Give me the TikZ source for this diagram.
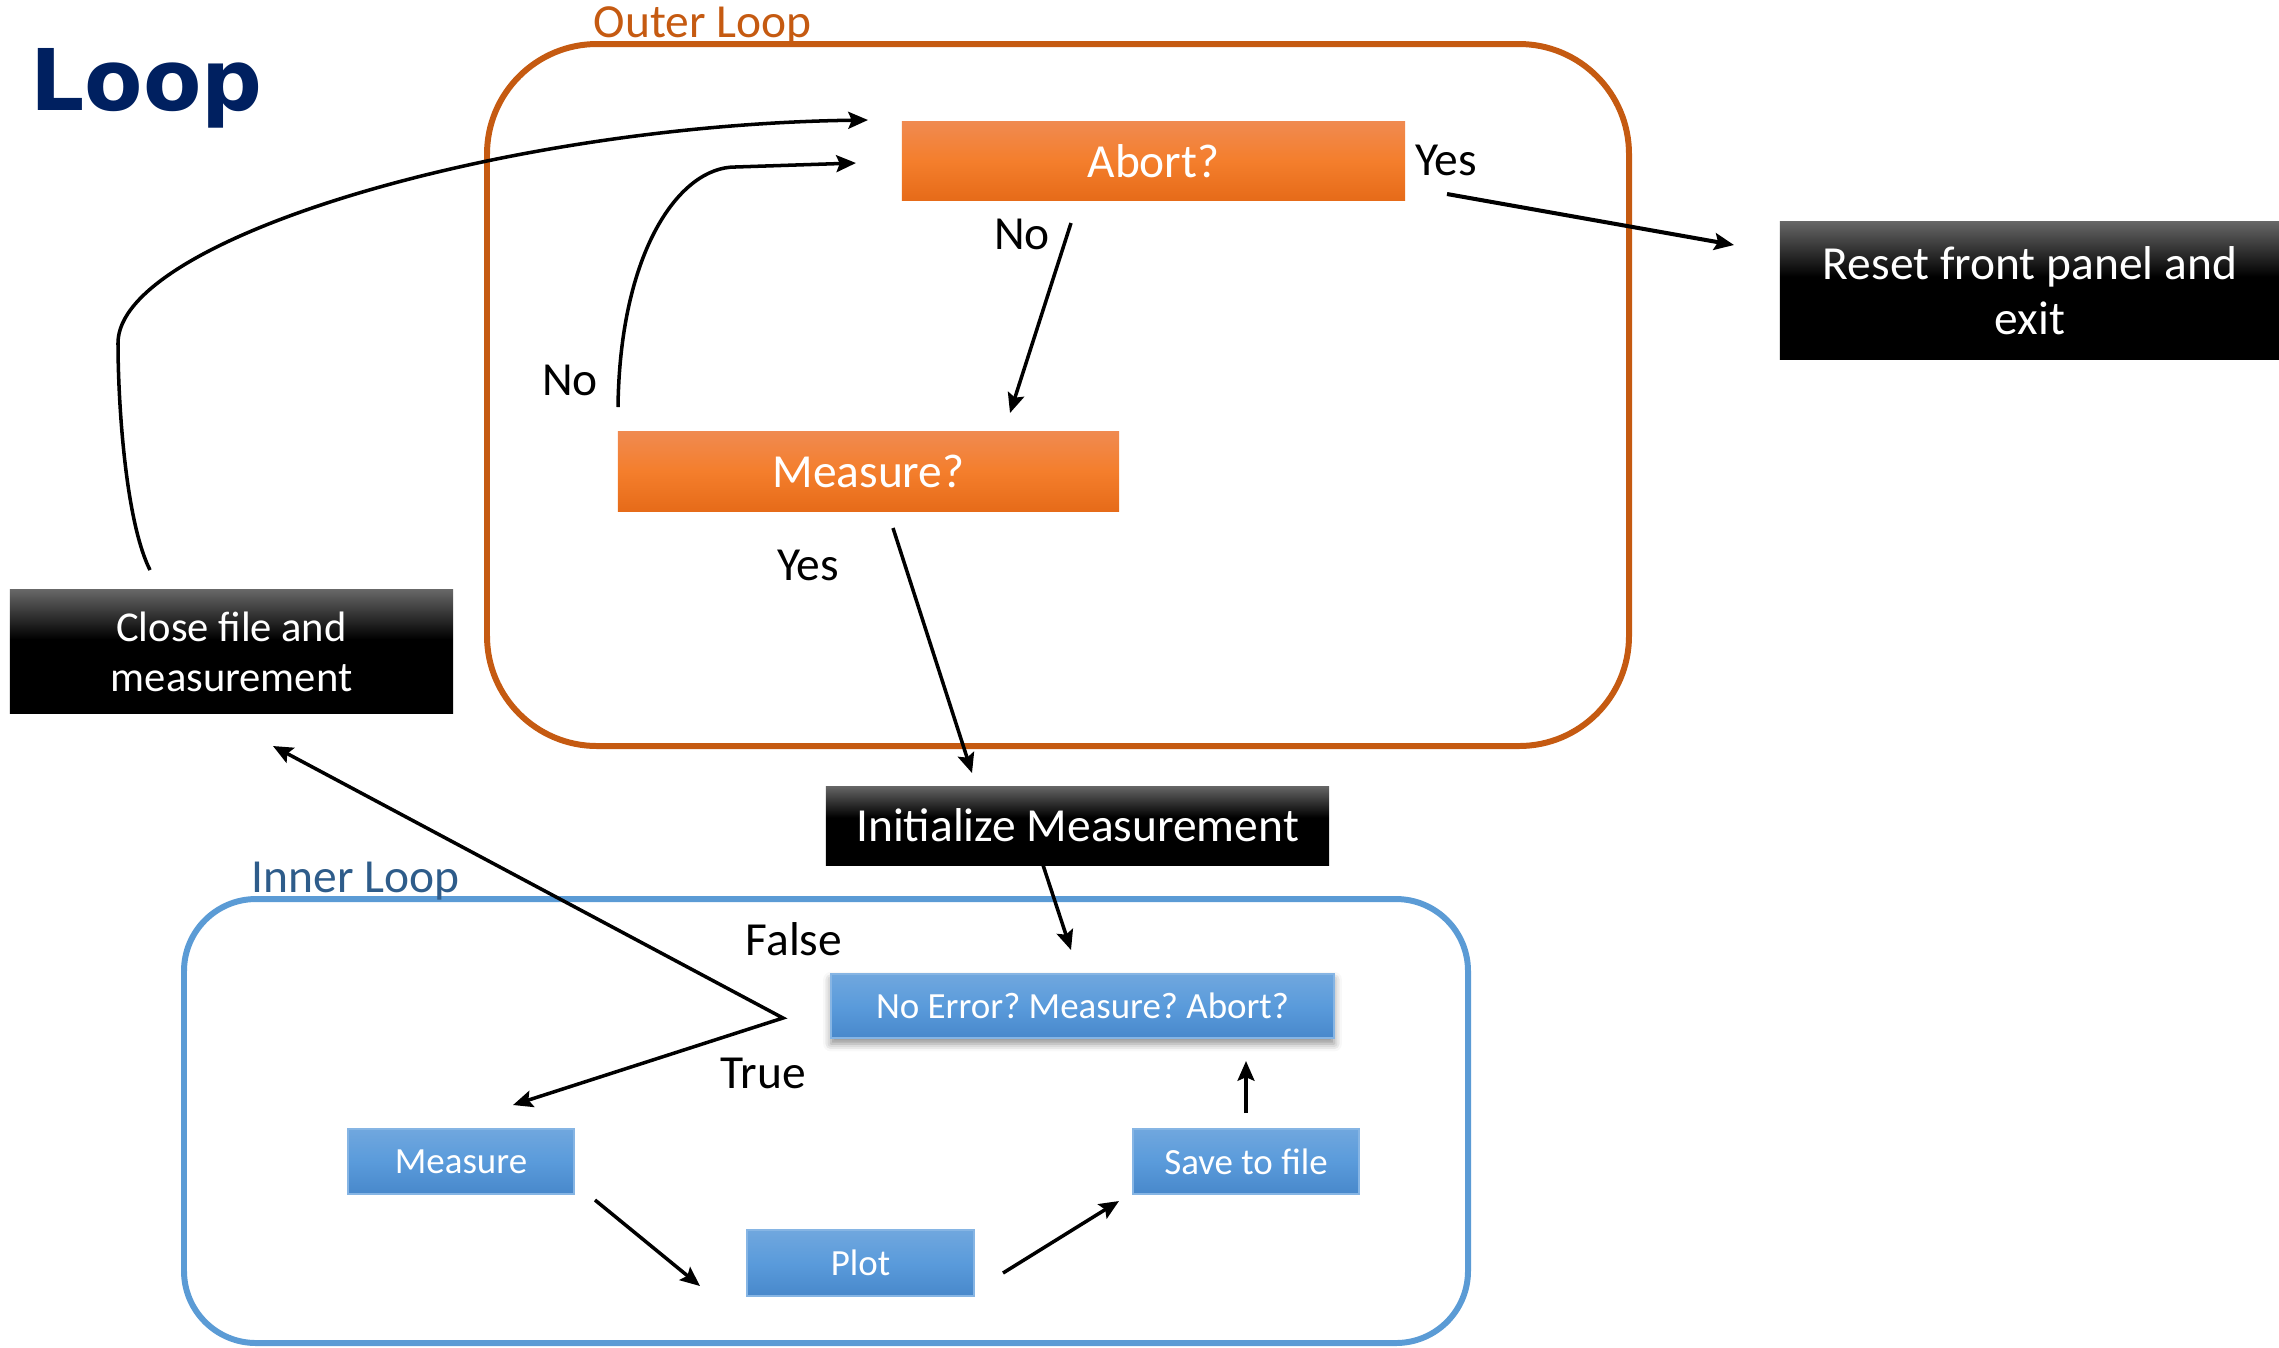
\documentclass[tikz,border=0pt]{standalone}
\usepackage{fontspec}
\setmainfont{Carlito}
\newfontfamily\titlefont{DejaVu Sans}
\usetikzlibrary{arrows.meta,shadows.blur}
\frenchspacing

\definecolor{outerc}{HTML}{C55A11}
\definecolor{innerc}{HTML}{5B9BD5}
\definecolor{innerlab}{HTML}{2E5C8A}
\definecolor{navy}{HTML}{002060}
\definecolor{orTop}{HTML}{F08A50}
\definecolor{orMid}{HTML}{F47E2C}
\definecolor{orBot}{HTML}{E66B19}
\definecolor{blTop}{HTML}{70A7DE}
\definecolor{blMid}{HTML}{5A9BDB}
\definecolor{blBot}{HTML}{4888CB}
\definecolor{blEdge}{HTML}{86B5E4}
\definecolor{boxgrey}{HTML}{666666}

% dark box: grey at the top fading to black
\pgfdeclareverticalshading{blackgrad}{100bp}{color(0bp)=(black); color(25bp)=(black); color(55bp)=(black); color(75bp)=(boxgrey); color(100bp)=(boxgrey)}

\tikzset{
  myhead/.tip={Stealth[length=5.6pt,width=4.8pt,inset=1pt]},
  base/.style={inner sep=0pt, outer sep=0pt, align=center, text=white},
  bigfont/.style={font=\fontsize{13.5}{15.6}\selectfont},
  orangebox/.style={base, bigfont, top color=orTop, bottom color=orBot, middle color=orMid},
  darkbox/.style={base, bigfont, shading=blackgrad},
  bluebox/.style={base, font=\fontsize{10.5}{12}\selectfont, top color=blTop, bottom color=blBot, middle color=blMid, draw=blEdge, line width=0.4pt},
  lbl/.style={bigfont, inner sep=0pt},
  arr/.style={-myhead, line width=1pt},
  looprect/.style={line width=1.7pt},
}

\begin{document}
\begin{tikzpicture}[x=0.01cm, y=-0.01cm]
\useasboundingbox (0,0) rectangle (2279,1347);
\clip (0,0) rectangle (2279,1347);

% title
\node[font=\titlefont\bfseries\fontsize{24.2}{28}\selectfont, text=navy, anchor=base west, inner sep=0pt] (title) at (30,110) {Loop};

% loop frames
\draw[looprect, outerc, rounded corners=1.1cm] (487,44) rectangle (1629,746);
\node[lbl, text=outerc, anchor=base west] (outerlab) at (593,37) {Outer Loop};
\draw[looprect, innerc, rounded corners=0.72cm] (184,899) rectangle (1468,1343);
\node[lbl, text=innerlab, anchor=base west] (innerlab) at (251,892) {Inner Loop};

% outer loop states
\node[orangebox, minimum width=5.03cm, minimum height=0.78cm] (abort) at (1153.5,161) {Abort?};
\node[orangebox, minimum width=5.01cm, minimum height=0.79cm] (measq) at (868.5,471.5) {Measure?};
\node[darkbox, minimum width=5.00cm, minimum height=1.37cm] (reset) at (2030,290.5) {Reset front panel and\\exit};
\node[darkbox, font=\fontsize{12.1}{14.2}\selectfont, minimum width=4.43cm, minimum height=1.23cm] (close) at (231.5,651.5) {Close file and\\measurement};
\node[darkbox, minimum width=5.03cm, minimum height=0.79cm] (init) at (1077.5,825.5) {Initialize Measurement};

% inner loop states
\node[bluebox, minimum width=5.03cm, minimum height=0.64cm,
      blur shadow={shadow xshift=0pt, shadow yshift=-1.6pt, shadow blur radius=2.2pt, shadow opacity=45}] (noerr) at (1082.5,1006) {No Error? Measure? Abort?};
\node[bluebox, minimum width=2.26cm, minimum height=0.65cm] (meas) at (461,1161.5) {Measure};
\node[bluebox, minimum width=2.27cm, minimum height=0.66cm] (plot) at (860.5,1263) {Plot};
\node[bluebox, minimum width=2.26cm, minimum height=0.65cm] (save) at (1246,1161.5) {Save to file};

% connector end points
\coordinate (closeOut) at (150,570);
\coordinate (closeBend) at (118,343);
\coordinate (abortInA) at (868,120);
\coordinate (measqOut) at (618,407);
\coordinate (measqBend) at (735,167);
\coordinate (abortInB) at (856,163);
\coordinate (abortNoOut) at (1071,223);
\coordinate (measqIn) at (1010,413);
\coordinate (abortYesOut) at (1447,194);
\coordinate (resetIn) at (1734,245);
\coordinate (measqYesOut) at (893,528);
\coordinate (initIn) at (972,773);
\coordinate (initOut) at (1043,865);
\coordinate (noerrIn) at (1071,950);
\coordinate (fork) at (783,1018);
\coordinate (closeIn) at (273,746);
\coordinate (measIn) at (513,1105);
\coordinate (measOut) at (595,1200);
\coordinate (plotIn) at (700,1286);
\coordinate (plotOut) at (1003,1273);
\coordinate (saveIn) at (1119,1201);
\coordinate (saveOut) at (1246,1113);
\coordinate (noerrBack) at (1246,1061);

% connectors
\draw[arr] (closeOut) .. controls (125,520) and (118,400) .. (closeBend)
  .. controls (118,240) and (500,125) .. (abortInA);
\draw[arr] (measqOut) .. controls (620,250) and (680,167) .. (measqBend) -- (abortInB);
\draw[arr] (abortNoOut) -- (measqIn);
\draw[arr, line width=1.15pt] (abortYesOut) -- (resetIn);
\draw[arr] (measqYesOut) -- (initIn);
\draw[arr] (initOut) -- (noerrIn);
\draw[arr, myhead-myhead] (closeIn) -- (fork) -- (measIn);
\draw[arr] (measOut) -- (plotIn);
\draw[arr] (plotOut) -- (saveIn);
\draw[arr] (saveOut) -- (noerrBack);

% branch labels
\node[lbl] (noA) at (570,380) {No};
\node[lbl] (noB) at (1022,234) {No};
\node[lbl] (yesA) at (1446,160) {Yes};
\node[lbl] (yesB) at (808,565) {Yes};
\node[lbl] (falseL) at (794,939) {False};
\node[lbl] (trueL) at (763,1073) {True};
\end{tikzpicture}
\end{document}
